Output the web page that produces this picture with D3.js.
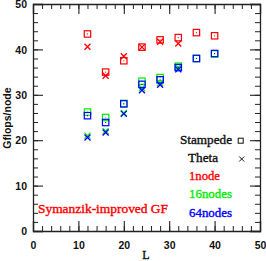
<!DOCTYPE html>
<html>
<head>
<meta charset="utf-8">
<script src="https://cdn.jsdelivr.net/npm/d3@7"></script>
<style>
  body { margin: 0; background: #fff; }
  .tick text { font-family: "Liberation Sans", Arial, sans-serif; font-weight: bold; font-size: 10.5px; fill: #111; }
  .leg { font-family: "Liberation Serif", "Times New Roman", serif; font-weight: normal; font-size: 12px; stroke-width: 0.35px; }
</style>
</head>
<body>
<div id="chart"></div>
<script>
var svgWidth = 266;
var svgHeight = 261;

var margin = { top: 4, right: 6, bottom: 30, left: 33 };
var width = 260 - margin.left;   // 50 -> 260px
var height = 231 - margin.top;   // 0 -> 231px

// data
var stampedeL = [12, 16, 20, 24, 28, 32, 36, 40];
var thetaL = [12, 16, 20, 24, 28, 32];

var stampede1 = [43.4, 35.0, 37.5, 40.5, 42.1, 42.6, 43.7, 43.0];
var stampede16 = [26.2, 25.0, 28.1, 33.0, 33.8, 36.3, 38.0, 39.0];
var stampede64 = [25.4, 23.9, 28.0, 32.3, 33.3, 36.0, 38.0, 39.1];

var theta1 = [40.6, 34.2, 38.5, 40.5, 41.7, 41.3];
var theta16 = [21.0, 22.0, 26.0, 31.5, 32.6, 36.0];
var theta64 = [20.6, 21.7, 25.8, 31.0, 32.2, 35.6];

var xTicks = [0, 10, 20, 30, 40, 50];
var yTicks = [0, 10, 20, 30, 40, 50];

var colors = { one: "#ff0000", sixteen: "#00ee00", sixtyfour: "#0000ff" };

var svg = d3.select("#chart")
  .append("svg")
  .attr("width", svgWidth)
  .attr("height", svgHeight);

var chartGroup = svg.append("g")
  .attr("transform", `translate(${margin.left}, ${margin.top})`);

var xScale = d3.scaleLinear().domain([0, 50]).range([0, width]);
var yScale = d3.scaleLinear().domain([0, 50]).range([height, 0]);

var minor = d3.range(0, 51, 2);

// ticks on all four sides, pointing inward
function drawAxis(axisFn, scale, ticks, transform, labels) {
  var major = chartGroup.append("g")
    .attr("transform", transform)
    .call(axisFn(scale).tickValues(ticks).tickSize(-10).tickPadding(0)
      .tickFormat(labels ? d3.format("d") : ""));
  major.select(".domain").attr("stroke", "#222").attr("stroke-width", 1.3);
  major.selectAll(".tick line").attr("stroke", "#222").attr("stroke-width", 1.1);
  chartGroup.append("g")
    .attr("transform", transform)
    .call(axisFn(scale).tickValues(minor).tickSize(-5).tickFormat(""))
    .call(g => g.select(".domain").remove())
    .selectAll(".tick line").attr("stroke", "#222").attr("stroke-width", 1);
  return major;
}

var xAxis = drawAxis(d3.axisBottom, xScale, xTicks, `translate(0, ${height})`, true);
xAxis.selectAll(".tick text").attr("y", 14).attr("dy", "0.35em");
drawAxis(d3.axisTop, xScale, xTicks, "translate(0, 0)", false);
var yAxis = drawAxis(d3.axisLeft, yScale, yTicks, "translate(0, 0)", true);
yAxis.selectAll(".tick text").attr("x", -6).attr("dy", "0.36em");
drawAxis(d3.axisRight, yScale, yTicks, `translate(${width}, 0)`, false);

// markers
function squares(xs, ys, color) {
  var g = chartGroup.append("g");
  g.selectAll("rect")
    .data(ys)
    .enter()
    .append("rect")
    .attr("x", (d, i) => xScale(xs[i]) - 3.2)
    .attr("y", d => yScale(d) - 3.2)
    .attr("width", 6.4)
    .attr("height", 6.4)
    .attr("fill", "none")
    .attr("stroke", color)
    .attr("stroke-width", 1.2);
  g.selectAll("circle")
    .data(ys)
    .enter()
    .append("circle")
    .attr("cx", (d, i) => xScale(xs[i]))
    .attr("cy", d => yScale(d))
    .attr("r", 0.6)
    .attr("fill", color);
}

function crosses(xs, ys, color) {
  chartGroup.append("g").selectAll("path")
    .data(ys)
    .enter()
    .append("path")
    .attr("d", (d, i) => {
      var cx = xScale(xs[i]), cy = yScale(d), s = 3;
      return `M${cx - s},${cy - s}L${cx + s},${cy + s}M${cx - s},${cy + s}L${cx + s},${cy - s}`;
    })
    .attr("stroke", color)
    .attr("stroke-width", 1.3)
    .attr("fill", "none");
}

squares(stampedeL, stampede1, colors.one);
crosses(thetaL, theta1, colors.one);
squares(stampedeL, stampede16, colors.sixteen);
crosses(thetaL, theta16, colors.sixteen);
squares(stampedeL, stampede64, colors.sixtyfour);
crosses(thetaL, theta64, colors.sixtyfour);

// axis titles
svg.append("text")
  .attr("class", "leg")
  .attr("x", 146)
  .attr("y", 259)
  .attr("text-anchor", "middle")
  .attr("fill", "#111")
  .attr("stroke", "#111")
  .text("L");

svg.append("text")
  .attr("transform", "translate(11, 118) rotate(-90)")
  .attr("text-anchor", "middle")
  .attr("font-family", "Liberation Sans, Arial, sans-serif")
  .attr("font-weight", "bold")
  .attr("font-size", 10.5)
  .attr("fill", "#111")
  .text("Gflops/node");

// legend
var legend = [
  { label: "Stampede", x: 180, y: 144, w: 52, color: "#111" },
  { label: "Theta", x: 188, y: 162, w: 30, color: "#111" },
  { label: "1node", x: 189, y: 180, w: 31, color: colors.one },
  { label: "16nodes", x: 189, y: 198, w: 43, color: colors.sixteen },
  { label: "64nodes", x: 189, y: 216.5, w: 43, color: colors.sixtyfour },
  { label: "Symanzik-improved GF", x: 38, y: 212.5, w: 130, color: colors.one }
];

svg.selectAll(".legtext")
  .data(legend)
  .enter()
  .append("text")
  .attr("class", "leg")
  .attr("x", d => d.x)
  .attr("y", d => d.y)
  .attr("textLength", d => d.w)
  .attr("lengthAdjust", "spacingAndGlyphs")
  .attr("fill", d => d.color)
  .attr("stroke", d => d.color)
  .text(d => d.label);

svg.append("rect")
  .attr("x", 238.2).attr("y", 138.2).attr("width", 5).attr("height", 5)
  .attr("fill", "none").attr("stroke", "#111").attr("stroke-width", 1);
svg.append("path")
  .attr("d", "M239.2,156.5L244.2,161.5M239.2,161.5L244.2,156.5")
  .attr("stroke", "#111").attr("stroke-width", 1);
</script>
</body>
</html>
